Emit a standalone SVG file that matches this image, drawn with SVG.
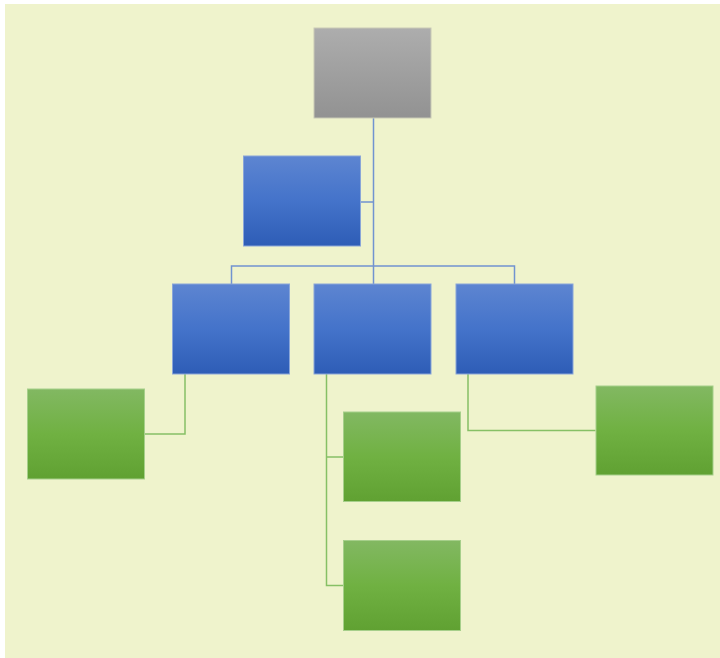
<svg xmlns="http://www.w3.org/2000/svg" width="720" height="658" viewBox="0 0 720 658">
<defs>
<linearGradient id="gGray" x1="0" y1="0" x2="0" y2="1"><stop offset="0" stop-color="#adadad"/><stop offset="1" stop-color="#929292"/></linearGradient>
<linearGradient id="gBlue" x1="0" y1="0" x2="0" y2="1"><stop offset="0" stop-color="#5d85d1"/><stop offset="0.5" stop-color="#4473ca"/><stop offset="1" stop-color="#2e5db6"/></linearGradient>
<linearGradient id="gGreen" x1="0" y1="0" x2="0" y2="1"><stop offset="0" stop-color="#82b862"/><stop offset="0.5" stop-color="#70b142"/><stop offset="1" stop-color="#60a132"/></linearGradient>
</defs>
<style>
.gray{fill:url(#gGray);stroke:#c9cab6;stroke-width:1}
.blue{fill:url(#gBlue);stroke:#8aa6d8;stroke-width:1}
.green{fill:url(#gGreen);stroke:#a6cf8a;stroke-width:1}
.cb{fill:none;stroke:#7193d0;stroke-width:1.5}
.cg{fill:none;stroke:#86c065;stroke-width:1.5}
</style>
<rect x="5" y="4" width="715" height="654" fill="#eff3cc"/>
<g id="connectors">
<path class="cb" d="M373.5 118V284M360.5 202H373.5M231.5 284V266H514.5V284"/>
<path class="cg" d="M185 374V434H145"/>
<path class="cg" d="M326.5 374V585.5H343M326.5 457H343"/>
<path class="cg" d="M468 374V430.5H595.5"/>
</g>
<g id="top"><rect class="gray" x="314" y="28" width="117" height="90"/></g>
<g id="assistant"><rect class="blue" x="243.5" y="156" width="117" height="90"/></g>
<g id="b1"><rect class="blue" x="172.5" y="284" width="117" height="90"/></g>
<g id="b2"><rect class="blue" x="314" y="284" width="117" height="90"/></g>
<g id="b3"><rect class="blue" x="456" y="284" width="117" height="90"/></g>
<g id="g1"><rect class="green" x="27.5" y="389" width="117" height="90"/></g>
<g id="g2"><rect class="green" x="343.5" y="412" width="117" height="89.5"/></g>
<g id="g3"><rect class="green" x="343.5" y="540.5" width="117" height="90"/></g>
<g id="g4"><rect class="green" x="596" y="386" width="117" height="89"/></g>
</svg>
